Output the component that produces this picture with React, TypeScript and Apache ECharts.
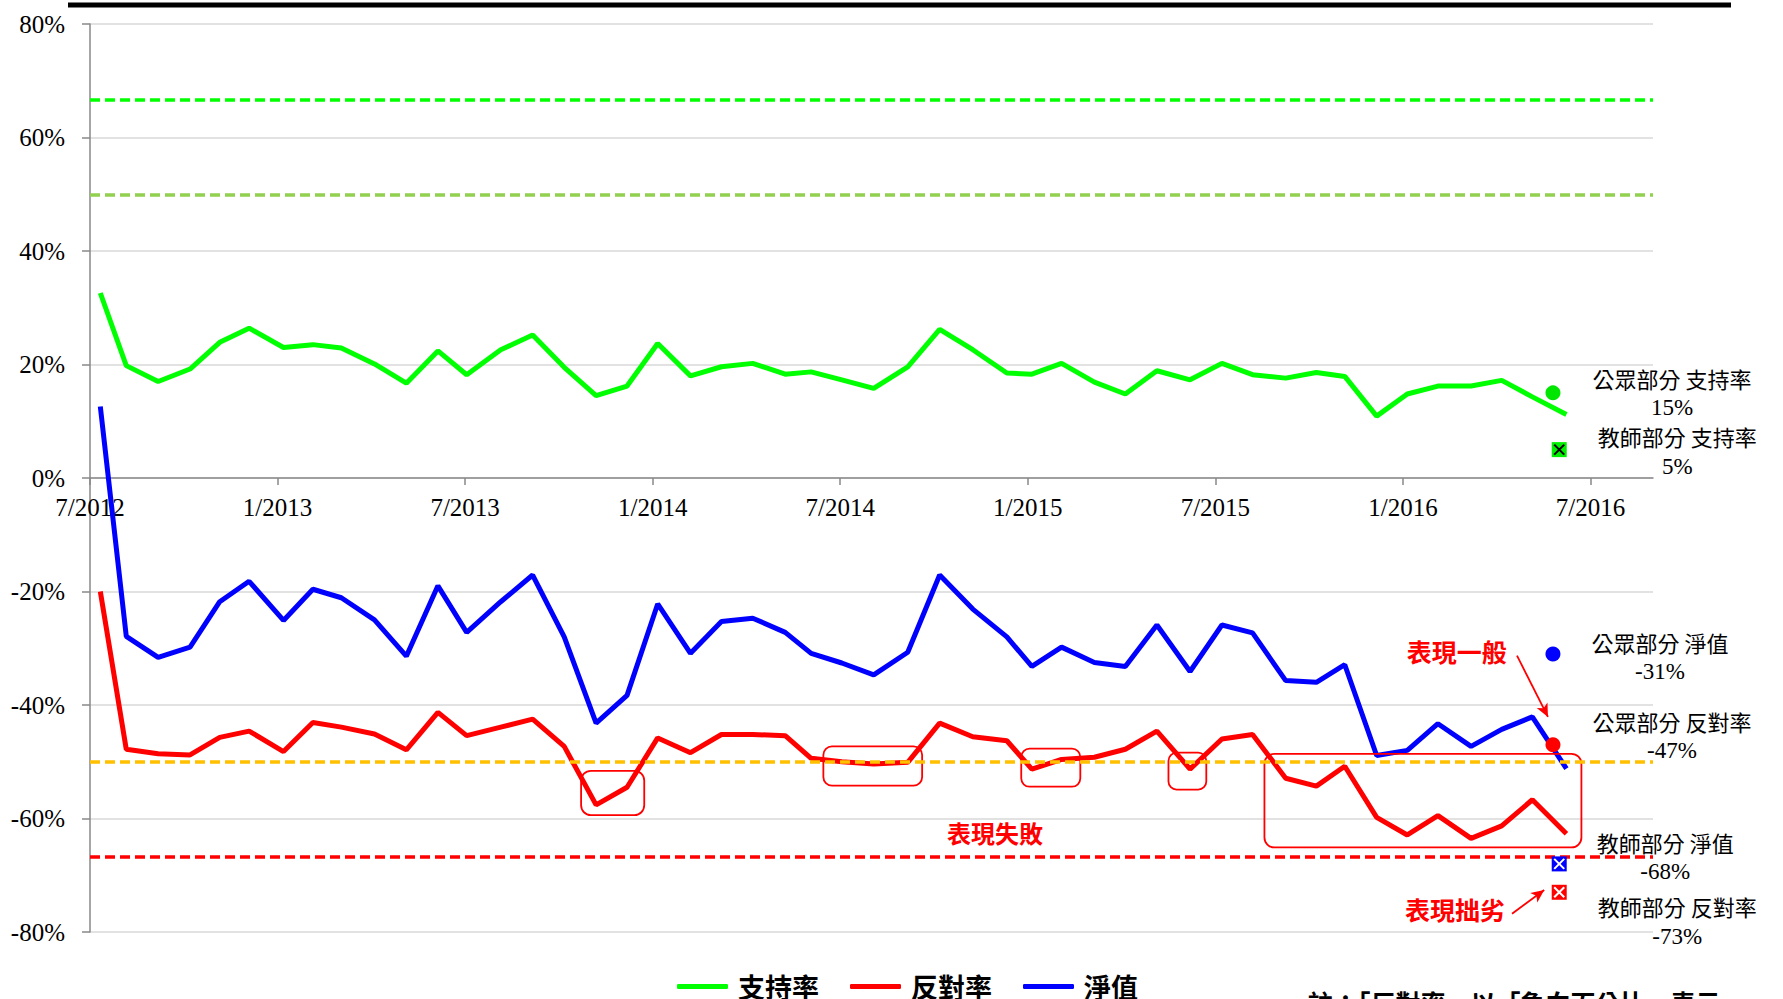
import React, { useEffect, useRef } from 'react';
import * as echarts from 'echarts';

// x position of each poll, in months since 7/2012
const monthPos = [0.33, 1.16, 2.18, 3.2, 4.15, 5.09, 6.19, 7.13, 8.04, 9.1, 10.12, 11.13, 12.05, 13.14, 14.16, 15.17, 16.19, 17.18, 18.16, 19.21, 20.2, 21.2, 22.24, 23.07, 24.05, 25.07, 26.16, 27.18, 28.24, 29.33, 30.13, 31.08, 32.13, 33.12, 34.13, 35.19, 36.21, 37.19, 38.25, 39.23, 40.14, 41.16, 42.14, 43.12, 44.18, 45.16, 46.14, 47.23];

const support = [32.6, 19.8, 17.0, 19.2, 23.9, 26.4, 23.0, 23.5, 22.9, 20.1, 16.7, 22.4, 18.2, 22.6, 25.2, 19.5, 14.5, 16.2, 23.7, 18.0, 19.6, 20.2, 18.3, 18.7, 17.3, 15.8, 19.6, 26.2, 22.6, 18.5, 18.3, 20.2, 16.9, 14.8, 18.9, 17.3, 20.2, 18.2, 17.6, 18.6, 17.9, 10.9, 14.8, 16.2, 16.2, 17.2, 14.3, 11.2];

const oppose = [-20.0, -47.8, -48.6, -48.8, -45.7, -44.6, -48.2, -43.1, -43.9, -45.1, -47.9, -41.3, -45.4, -43.9, -42.5, -47.3, -57.6, -54.5, -45.8, -48.4, -45.2, -45.2, -45.4, -49.4, -50.0, -50.4, -50.1, -43.2, -45.6, -46.3, -51.3, -49.6, -49.2, -47.8, -44.6, -51.3, -46.0, -45.2, -52.9, -54.3, -50.8, -59.8, -62.9, -59.5, -63.5, -61.3, -56.7, -62.7];

const net = [12.6, -27.9, -31.6, -29.8, -21.8, -18.2, -25.1, -19.6, -21.1, -25.0, -31.4, -19.0, -27.2, -21.8, -17.1, -28.0, -43.2, -38.3, -22.2, -30.9, -25.3, -24.7, -27.2, -30.9, -32.6, -34.7, -30.7, -17.1, -23.1, -28.0, -33.2, -29.8, -32.5, -33.2, -25.9, -34.1, -25.9, -27.3, -35.7, -36.0, -32.9, -48.9, -48.0, -43.3, -47.3, -44.3, -42.1, -51.2];

const seriesNames = ['支持率', '反對率', '淨值'];

const xTickMonths = [0, 6, 12, 18, 24, 30, 36, 42, 48];
const xTickLabels = ['7/2012', '1/2013', '7/2013', '1/2014', '7/2014', '1/2015', '7/2015', '1/2016', '7/2016'];

// reference thresholds (%)
const refValues = [66.7, 50, -50, -66.7];

// latest survey split: public (circles) and teachers (crossed squares)
const publicMonth = 46.8;
const publicLabels = ['公眾部分 支持率', '公眾部分 淨值', '公眾部分 反對率'];
const publicValues = [15, -31, -47];
const teacherMonth = 47.0;
const teacherLabels = ['教師部分 支持率', '教師部分 淨值', '教師部分 反對率'];
const teacherValues = [5, -68, -73];

// annotation boxes [month0, value0, month1, value1]
const boxes = [
  [15.71, -51.6, 17.73, -59.4],
  [23.46, -47.3, 26.62, -54.2],
  [29.79, -47.7, 31.68, -54.4],
  [34.5, -48.4, 35.71, -54.9],
  [37.57, -48.6, 47.71, -65.1],
];

const noteTexts = ['表現一般', '表現失敗', '表現拙劣'];
const notePos = [[43.72, -30.4], [28.95, -62.4], [43.67, -76.0]];
const arrows = [
  [[45.65, -31.3], [46.64, -42.1]],
  [[45.49, -76.8], [46.52, -72.6]],
];

const SERIF = "'Liberation Serif', 'Times New Roman', serif";
const CJK = "'Noto Sans CJK TC', 'Noto Sans CJK SC', sans-serif";
const GREEN = '#00ff00';
const RED = '#ff0000';
const BLUE = '#0000ff';

const refColors = [GREEN, '#92d050', '#ffc000', RED];
const publicColors = ['#00e600', BLUE, RED];
const teacherFill = ['#00ee00', BLUE, RED];
const teacherCross = ['#000000', '#ffffff', '#ffffff'];
const publicOffsets = [[119, 0], [107, 3], [119, -9]];
const teacherOffsets = [[118, 1.5], [106, -7], [118, 29]];
const noteSizes = [25, 24, 25];

const richStyles = {
  a: { fontFamily: CJK, fontSize: 22, color: '#111', lineHeight: 30, align: 'center' },
  b: { fontFamily: SERIF, fontSize: 23, color: '#111', lineHeight: 30, align: 'center' },
};

const GRID_TOP = 24;
const GRID_H = 908;
const Y_MIN = -80;
const Y_MAX = 80;

export default function App() {
  const ref = useRef<HTMLDivElement>(null);

  useEffect(() => {
    if (!ref.current) return;
    const chart = echarts.init(ref.current, null, { renderer: 'svg' });
    const axisGray = '#898989';
    // distance from grid bottom up to the 0% line, so the x axis sits on zero
    const zeroOffset = -(GRID_H * (0 - Y_MIN)) / (Y_MAX - Y_MIN);

    const lineSeries = [support, oppose, net].map((vals, k) => ({
      name: seriesNames[k],
      type: 'line',
      data: vals.map((v, i) => [monthPos[i], v]),
      symbol: 'none',
      showSymbol: false,
      lineStyle: { color: [GREEN, RED, BLUE][k], width: 5 },
      itemStyle: { color: [GREEN, RED, BLUE][k] },
      z: 2,
      silent: true,
    }));

    (lineSeries[2] as any).markLine = {
      silent: true,
      symbol: ['none', 'none'],
      label: { show: false },
      emphasis: { disabled: true },
      data: [
        ...refValues.map((v, i) => ({
          yAxis: v,
          symbol: 'none',
          lineStyle: { color: refColors[i], type: [10, 5], width: 3.5 },
        })),
        ...arrows.map((a) => [
          { coord: a[0], symbol: 'none', lineStyle: { color: RED, width: 1.8, type: 'solid' } },
          { coord: a[1], symbol: 'arrow', symbolSize: [9, 13], lineStyle: { color: RED, width: 1.8, type: 'solid' } },
        ]),
      ],
    };

    const option: any = {
      animation: false,
      backgroundColor: '#ffffff',
      grid: { left: 90, top: GRID_TOP, width: 1563, height: GRID_H },
      legend: {
        data: seriesNames,
        left: 672,
        top: 968,
        icon: 'roundRect',
        itemWidth: 51,
        itemHeight: 5,
        itemGap: 31,
        selectedMode: false,
        textStyle: { fontFamily: CJK, fontSize: 27, fontWeight: 'bold', color: '#000', padding: [0, 0, 0, 5] },
      },
      xAxis: {
        type: 'value',
        position: 'bottom',
        offset: zeroOffset,
        min: 0,
        max: 50,
        interval: 6,
        axisLine: { onZero: false, lineStyle: { color: axisGray, width: 1.5 } },
        axisTick: { show: true, length: 7, customValues: xTickMonths, lineStyle: { color: axisGray, width: 1.5 } },
        axisLabel: {
          customValues: xTickMonths,
          formatter: (v: number) => {
            const idx = xTickMonths.indexOf(Math.round(v));
            return idx >= 0 ? xTickLabels[idx] : '';
          },
          fontFamily: SERIF,
          fontSize: 25,
          color: '#000',
          margin: 17,
        },
        splitLine: { show: false },
      },
      yAxis: {
        type: 'value',
        min: Y_MIN,
        max: Y_MAX,
        interval: 20,
        axisLine: { show: true, onZero: false, lineStyle: { color: axisGray, width: 1.5 } },
        axisTick: { show: true, length: 8, lineStyle: { color: axisGray, width: 1.5 } },
        axisLabel: { formatter: '{value}%', fontFamily: SERIF, fontSize: 25, color: '#000', margin: 25 },
        splitLine: { show: true, lineStyle: { color: '#d9d9d9', width: 1.5 } },
      },
      graphic: [
        { type: 'rect', shape: { x: 68, y: 2.5, width: 1663, height: 5 }, style: { fill: '#000' } },
        {
          type: 'text',
          x: 1308,
          y: 1002,
          style: {
            text: '註：「反對率」以「負向百分比」表示。',
            fill: '#000',
            font: `bold 25px ${CJK}`,
            verticalAlign: 'middle',
            align: 'left',
          },
        },
      ],
      series: [
        ...lineSeries,
        {
          type: 'custom',
          name: 'boxes',
          silent: true,
          z: 4,
          data: boxes,
          renderItem: (_p: any, api: any) => {
            const a = api.coord([api.value(0), api.value(1)]);
            const b = api.coord([api.value(2), api.value(3)]);
            const x = Math.min(a[0], b[0]);
            const y = Math.min(a[1], b[1]);
            const w = Math.abs(b[0] - a[0]);
            const h = Math.abs(b[1] - a[1]);
            return {
              type: 'rect',
              shape: { x, y, width: w, height: h, r: Math.min(10, h * 0.22) },
              style: { fill: 'none', stroke: RED, lineWidth: 1.8 },
            };
          },
        },
        {
          type: 'custom',
          name: 'notes',
          silent: true,
          z: 5,
          data: notePos.map((p, i) => [p[0], p[1], i]),
          renderItem: (_p: any, api: any) => {
            const i = api.value(2);
            const c = api.coord([api.value(0), api.value(1)]);
            return {
              type: 'text',
              x: c[0],
              y: c[1],
              style: {
                text: noteTexts[i],
                fill: RED,
                font: `bold ${noteSizes[i]}px ${CJK}`,
                align: 'center',
                verticalAlign: 'middle',
              },
            };
          },
        },
        {
          type: 'custom',
          name: 'public',
          silent: true,
          z: 6,
          data: publicValues.map((v, i) => [publicMonth, v, i]),
          renderItem: (_p: any, api: any) => {
            const i = api.value(2);
            const v = api.value(1);
            const c = api.coord([api.value(0), v]);
            const off = publicOffsets[i];
            return {
              type: 'group',
              children: [
                { type: 'circle', shape: { cx: c[0], cy: c[1], r: 7.5 }, style: { fill: publicColors[i] } },
                {
                  type: 'text',
                  x: c[0] + off[0],
                  y: c[1] + off[1],
                  style: {
                    text: `{a|${publicLabels[i]}}\n{b|${v}%}`,
                    rich: richStyles,
                    align: 'center',
                    verticalAlign: 'middle',
                  },
                },
              ],
            };
          },
        },
        {
          type: 'custom',
          name: 'teacher',
          silent: true,
          z: 6,
          data: teacherValues.map((v, i) => [teacherMonth, v, i]),
          renderItem: (_p: any, api: any) => {
            const i = api.value(2);
            const v = api.value(1);
            const c = api.coord([api.value(0), v]);
            const s = 15;
            const h = s / 2;
            const ins = 2.5;
            const off = teacherOffsets[i];
            const cross = { stroke: teacherCross[i], lineWidth: 2 };
            return {
              type: 'group',
              children: [
                { type: 'rect', shape: { x: c[0] - h, y: c[1] - h, width: s, height: s }, style: { fill: teacherFill[i] } },
                { type: 'line', shape: { x1: c[0] - h + ins, y1: c[1] - h + ins, x2: c[0] + h - ins, y2: c[1] + h - ins }, style: cross },
                { type: 'line', shape: { x1: c[0] + h - ins, y1: c[1] - h + ins, x2: c[0] - h + ins, y2: c[1] + h - ins }, style: cross },
                {
                  type: 'text',
                  x: c[0] + off[0],
                  y: c[1] + off[1],
                  style: {
                    text: `{a|${teacherLabels[i]}}\n{b|${v}%}`,
                    rich: richStyles,
                    align: 'center',
                    verticalAlign: 'middle',
                  },
                },
              ],
            };
          },
        },
      ],
    };

    chart.setOption(option);
    return () => chart.dispose();
  }, []);

  return (
    <div
      ref={ref}
      style={{ position: 'fixed', left: 0, top: 0, width: 1783, height: 999, background: '#fff' }}
    />
  );
}
